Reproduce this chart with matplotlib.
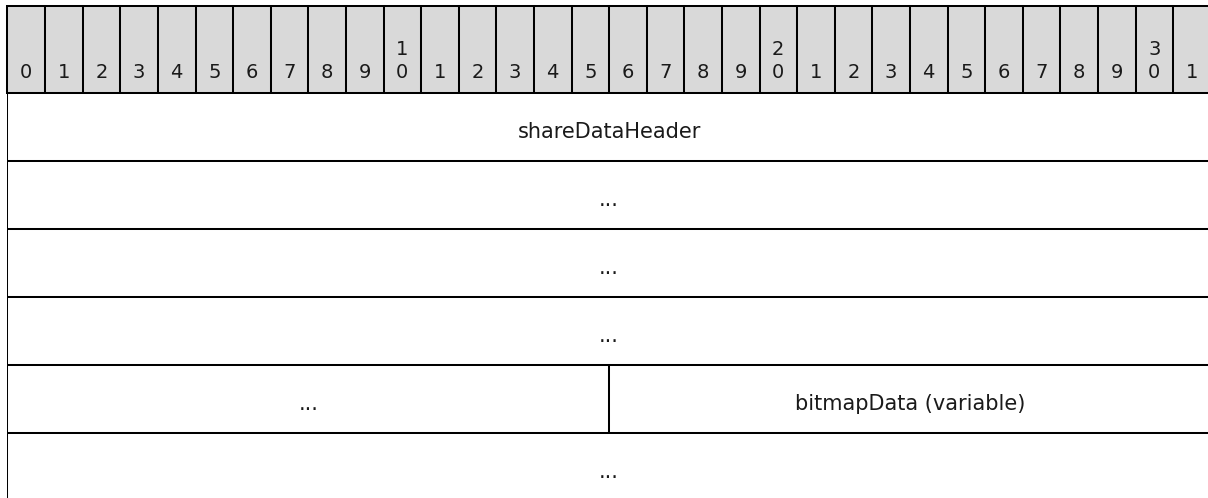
import matplotlib.pyplot as plt
from matplotlib.patches import Rectangle

# bit ruler
bits = list(range(32))

# fields: label, row, first bit, end bit (exclusive)
field_labels = ["shareDataHeader", "...", "...", "...", "...", "bitmapData (variable)", "..."]
field_rows = [0, 1, 2, 3, 4, 4, 5]
field_start = [0, 0, 0, 0, 0, 16, 0]
field_end = [32, 32, 32, 32, 16, 32, 32]

### layout (pixels) ###
W, H = 1208, 498
x0 = 7.5        # left edge of bit 0
cw = 37.6       # width of one bit cell
top = 6.0       # top of header
head_h = 86.7   # header height
row_h = 68.0    # height of one row
lw = 1.45
fs_head = 14
fs_body = 15
txt_col = "#1a1a1a"

fig = plt.figure(figsize=(W / 100, H / 100), dpi=100)
ax = fig.add_axes([x0 / W, 0, 32 * cw / W, 1])
ax.set_xlim(0, 32)
# y in row units, 0 = top of first row
y_top = -(top + head_h) / row_h
y_bot = (H - top - head_h) / row_h
ax.set_ylim(y_bot, y_top)
ax.axis("off")

hh = head_h / row_h

# header cells
for b in bits:
    ax.add_patch(Rectangle((b, -hh), 1, hh, facecolor="#d9d9d9",
                           edgecolor="black", linewidth=lw, clip_on=False))
    if b >= 10 and b % 10 == 0:
        lab = f"{b // 10}\n0"
    else:
        lab = str(b % 10)
    ax.text(b + 0.5, -0.22, lab, ha="center", va="baseline", fontsize=fs_head,
            color=txt_col, linespacing=1.24)

# body fields
for lab, r, s, e in zip(field_labels, field_rows, field_start, field_end):
    ax.add_patch(Rectangle((s, r), e - s, 1, facecolor="white",
                           edgecolor="black", linewidth=lw, clip_on=True))
    ax.text((s + e) / 2, r + 0.665, lab, ha="center", va="baseline",
            fontsize=fs_body, color=txt_col)

fig.savefig("out.png", dpi=100)
